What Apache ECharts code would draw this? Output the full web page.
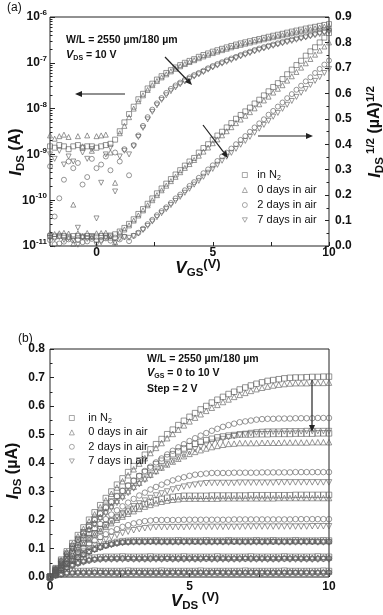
<!DOCTYPE html>
<html><head><meta charset="utf-8">
<script src="https://cdn.jsdelivr.net/npm/echarts@6/dist/echarts.min.js"></script>
<style>html,body{margin:0;padding:0;background:#fff}#c{width:383px;height:615px}</style>
</head><body><div id="c"></div>
<script>
// ---------- legend / series names ----------
const names = ['in N2', '0 days in air', '2 days in air', '7 days in air'];

// ---------- panel (a): transfer curves ----------
const vgs = [-2,-1.8,-1.6,-1.4,-1.2,-1,-0.8,-0.6,-0.4,-0.2,
 0,0.2,0.4,0.6,0.8,1,1.2,1.4,1.6,1.8,
 2,2.2,2.4,2.6,2.8,3,3.2,3.4,3.6,3.8,
 4,4.2,4.4,4.6,4.8,5,5.2,5.4,5.6,5.8,
 6,6.2,6.4,6.6,6.8,7,7.2,7.4,7.6,7.8,
 8,8.2,8.4,8.6,8.8,9,9.2,9.4,9.6,9.8,
 10];
const vgsTickLabels = [0, 5, 10];
const logTickExps = [-11, -10, -9, -8, -7, -6];

// I_DS (A), log axis
const logN2 = [1.5e-9,1.4e-9,1.6e-9,1.5e-9,1.3e-9,1.5e-9,1.6e-9,1.4e-9,1.5e-9,1.5e-9,
 1.4e-9,1.5e-9,1.6e-9,1.7e-9,2.1e-9,3.2e-9,5.0e-9,7.6e-9,1.1e-8,1.6e-8,
 2.1e-8,2.75e-8,3.5e-8,4.3e-8,5.1e-8,6.0e-8,6.9e-8,7.9e-8,8.9e-8,1.0e-7,
 1.1e-7,1.2e-7,1.35e-7,1.48e-7,1.6e-7,1.75e-7,1.88e-7,2.02e-7,2.17e-7,2.33e-7,
 2.5e-7,2.65e-7,2.8e-7,2.96e-7,3.13e-7,3.3e-7,3.5e-7,3.7e-7,3.9e-7,4.1e-7,
 4.3e-7,4.55e-7,4.8e-7,5.05e-7,5.3e-7,5.6e-7,5.85e-7,6.1e-7,6.4e-7,6.7e-7,
 7.0e-7];
const log0d = [2.6e-9,2.2e-9,2.5e-9,2.7e-9,2.4e-9,8e-11,2.5e-9,1.5e-9,2.6e-9,1.2e-9,
 2.5e-9,2.6e-9,2.7e-9,1.1e-9,2.4e-10,2.9e-9,4.2e-9,6.5e-9,1.0e-8,1.45e-8,
 1.95e-8,2.55e-8,3.25e-8,4.0e-8,4.8e-8,5.6e-8,6.5e-8,7.4e-8,8.4e-8,9.4e-8,
 1.04e-7,1.14e-7,1.26e-7,1.38e-7,1.5e-7,1.63e-7,1.76e-7,1.89e-7,2.03e-7,2.18e-7,
 2.33e-7,2.47e-7,2.62e-7,2.77e-7,2.93e-7,3.1e-7,3.27e-7,3.45e-7,3.63e-7,3.82e-7,
 4.0e-7,4.22e-7,4.45e-7,4.68e-7,4.92e-7,5.15e-7,5.4e-7,5.65e-7,5.9e-7,6.15e-7,
 6.4e-7];
const log2d = [5.5e-10,4.4e-11,1.1e-10,2.8e-10,7e-10,5e-10,6.5e-10,2.2e-10,3.2e-10,8e-10,
 5e-10,6e-10,9e-10,4.5e-10,1.1e-9,7e-10,1.3e-9,3.5e-10,1.6e-9,2.6e-9,
 4.2e-9,6.5e-9,9.5e-9,1.3e-8,1.7e-8,2.2e-8,2.7e-8,3.2e-8,3.7e-8,4.25e-8,
 4.8e-8,5.4e-8,6.0e-8,6.7e-8,7.6e-8,8.5e-8,9.4e-8,1.03e-7,1.13e-7,1.24e-7,
 1.35e-7,1.48e-7,1.61e-7,1.75e-7,1.9e-7,2.05e-7,2.2e-7,2.35e-7,2.5e-7,2.67e-7,
 2.85e-7,3.03e-7,3.22e-7,3.41e-7,3.6e-7,3.8e-7,4.05e-7,4.3e-7,4.6e-7,4.9e-7,
 5.2e-7];
const log7d = [1.0e-9,8e-10,1.2e-9,6e-10,9e-10,7e-10,2.5e-11,1.1e-9,8e-10,1.3e-9,
 4e-11,2.4e-10,1.0e-9,1.4e-9,1.55e-10,9e-10,1.2e-9,1.0e-9,1.5e-9,2.4e-9,
 3.8e-9,5.8e-9,8.5e-9,1.18e-8,1.55e-8,1.95e-8,2.4e-8,2.9e-8,3.4e-8,3.9e-8,
 4.4e-8,5.0e-8,5.6e-8,6.3e-8,7.1e-8,7.9e-8,8.7e-8,9.6e-8,1.05e-7,1.15e-7,
 1.26e-7,1.38e-7,1.5e-7,1.63e-7,1.77e-7,1.91e-7,2.05e-7,2.2e-7,2.35e-7,2.5e-7,
 2.66e-7,2.83e-7,3.0e-7,3.18e-7,3.37e-7,3.56e-7,3.78e-7,4.0e-7,4.25e-7,4.5e-7,
 4.8e-7];

// I_DS^1/2 (uA)^1/2, right axis
const sqN2 = [.039,.037,.040,.039,.036,.039,.040,.037,.039,.039,
 .037,.039,.040,.041,.046,.057,.071,.087,.105,.126,
 .145,.166,.187,.207,.226,.245,.263,.281,.298,.316,
 .332,.346,.367,.385,.400,.418,.434,.449,.466,.483,
 .500,.515,.529,.544,.560,.575,.592,.608,.625,.640,
 .656,.675,.693,.711,.728,.748,.765,.781,.800,.819,
 .837];
const sq0d = [.051,.047,.050,.052,.049,.009,.050,.039,.051,.035,
 .050,.051,.052,.033,.015,.054,.065,.081,.100,.120,
 .140,.160,.180,.200,.219,.237,.255,.272,.290,.307,
 .322,.338,.355,.371,.387,.404,.419,.435,.451,.467,
 .483,.497,.512,.526,.541,.557,.572,.587,.603,.618,
 .632,.650,.667,.684,.701,.718,.735,.752,.768,.784,
 .800];
const sq2d = [.023,.007,.010,.017,.026,.022,.025,.015,.018,.028,
 .022,.024,.030,.021,.033,.026,.036,.019,.040,.052,
 .068,.086,.103,.121,.137,.152,.169,.187,.202,.219,
 .236,.251,.268,.286,.301,.317,.334,.352,.367,.383,
 .400,.417,.432,.449,.466,.482,.498,.516,.531,.548,
 .564,.581,.597,.614,.630,.647,.663,.680,.696,.713,
 .729];
const sq7d = [.032,.028,.035,.024,.030,.026,.005,.033,.028,.036,
 .006,.015,.032,.037,.012,.030,.035,.032,.039,.049,
 .063,.079,.096,.113,.129,.145,.161,.177,.193,.209,
 .225,.241,.256,.272,.288,.303,.319,.335,.351,.366,
 .382,.398,.413,.429,.445,.461,.476,.492,.508,.523,
 .539,.555,.570,.586,.602,.617,.633,.649,.664,.680,
 .696];

// ---------- panel (b): output curves, I_DS (uA) vs V_DS ----------
const vds = [0,0.2,0.4,0.6,0.8,1,1.2,1.4,1.6,1.8,
 2,2.2,2.4,2.6,2.8,3,3.2,3.4,3.6,3.8,
 4,4.2,4.4,4.6,4.8,5,5.2,5.4,5.6,5.8,
 6,6.2,6.4,6.6,6.8,7,7.2,7.4,7.6,7.8,
 8,8.2,8.4,8.6,8.8,9,9.2,9.4,9.6,9.8,
 10];
const vdsTickLabels = [0, 5, 10];

// in N2, VGS = 0,2,4,6,8,10 V
const n2Vg0 = [0,.008,.013,.018,.020,.021,.021,.021,.022,.021,
 .021,.021,.021,.021,.022,.021,.021,.021,.021,.021,
 .022,.021,.021,.021,.021,.021,.021,.022,.021,.021,
 .021,.021,.021,.021,.021,.022,.021,.021,.021,.021,
 .021,.021,.022,.021,.021,.021,.021,.021,.021,.022,
 .021];
const n2Vg2 = [0,.013,.026,.036,.045,.053,.060,.065,.068,.070,
 .071,.071,.071,.072,.071,.071,.071,.071,.072,.071,
 .071,.071,.071,.071,.072,.071,.071,.071,.071,.071,
 .072,.071,.071,.071,.071,.071,.072,.071,.071,.071,
 .071,.071,.072,.071,.071,.071,.071,.071,.072,.071,
 .071];
const n2Vg4 = [0,.016,.032,.046,.059,.071,.082,.092,.100,.108,
 .114,.119,.123,.126,.127,.128,.128,.128,.128,.129,
 .128,.128,.128,.129,.128,.128,.128,.128,.129,.128,
 .128,.128,.129,.128,.128,.128,.128,.129,.128,.128,
 .129,.128,.128,.128,.129,.128,.128,.128,.128,.129,
 .128];
const n2Vg6 = [0,.022,.044,.064,.084,.103,.120,.137,.153,.168,
 .182,.196,.208,.219,.230,.239,.248,.256,.263,.269,
 .274,.278,.281,.283,.285,.285,.285,.285,.285,.286,
 .286,.286,.286,.286,.286,.286,.287,.287,.287,.287,
 .287,.287,.287,.287,.288,.288,.288,.288,.288,.288,
 .288];
const n2Vg8 = [0,.028,.056,.082,.108,.133,.157,.180,.202,.224,
 .245,.265,.284,.302,.320,.337,.353,.368,.382,.396,
 .408,.420,.431,.441,.451,.459,.467,.474,.480,.485,
 .490,.493,.496,.498,.500,.500,.500,.501,.501,.501,
 .502,.502,.502,.502,.503,.503,.503,.503,.504,.504,
 .504];
const n2Vg10 = [0,.031,.061,.090,.119,.147,.174,.201,.227,.252,
 .277,.300,.324,.346,.368,.389,.409,.429,.448,.466,
 .484,.501,.517,.533,.548,.562,.575,.588,.600,.612,
 .622,.632,.642,.650,.658,.665,.672,.678,.683,.688,
 .691,.694,.697,.699,.700,.700,.701,.702,.702,.703,
 .703];
// 0 days in air
const d0Vg0 = [0,.007,.012,.016,.018,.019,.019,.019,.019,.020,
 .019,.019,.019,.019,.019,.020,.019,.019,.019,.019,
 .019,.019,.020,.019,.019,.019,.019,.019,.019,.019,
 .020,.019,.019,.019,.019,.019,.019,.019,.020,.019,
 .019,.019,.019,.019,.019,.019,.020,.019,.019,.019,
 .019];
const d0Vg2 = [0,.013,.024,.035,.044,.051,.057,.062,.065,.067,
 .068,.068,.068,.068,.069,.068,.068,.068,.068,.068,
 .068,.069,.068,.068,.068,.068,.068,.068,.069,.068,
 .068,.068,.068,.068,.068,.069,.068,.068,.068,.068,
 .068,.068,.069,.068,.068,.068,.068,.068,.068,.069,
 .068];
const d0Vg4 = [0,.016,.031,.045,.058,.070,.081,.090,.099,.106,
 .112,.117,.121,.124,.125,.126,.126,.126,.127,.126,
 .126,.126,.126,.126,.127,.126,.126,.126,.126,.126,
 .127,.126,.126,.126,.126,.126,.126,.127,.126,.126,
 .126,.126,.126,.126,.126,.127,.126,.126,.126,.126,
 .126];
const d0Vg6 = [0,.022,.042,.062,.081,.099,.116,.132,.148,.162,
 .176,.189,.201,.212,.222,.231,.239,.247,.253,.259,
 .264,.268,.271,.273,.275,.275,.275,.275,.275,.275,
 .275,.276,.276,.276,.276,.276,.276,.276,.276,.276,
 .276,.277,.277,.277,.277,.277,.277,.277,.277,.277,
 .277];
const d0Vg8 = [0,.026,.052,.077,.101,.125,.147,.169,.190,.211,
 .230,.249,.267,.284,.301,.317,.331,.346,.359,.372,
 .384,.395,.405,.415,.424,.432,.439,.445,.451,.456,
 .460,.464,.467,.468,.470,.470,.470,.470,.471,.471,
 .471,.471,.472,.472,.472,.472,.472,.473,.473,.473,
 .473];
const d0Vg10 = [0,.030,.059,.088,.116,.143,.169,.195,.220,.245,
 .269,.292,.314,.336,.357,.378,.398,.417,.435,.453,
 .470,.487,.502,.517,.532,.546,.559,.571,.583,.594,
 .604,.614,.623,.632,.639,.646,.653,.659,.664,.668,
 .672,.675,.677,.679,.680,.680,.680,.681,.681,.681,
 .682];
// 2 days in air
const d2Vg0 = [0,.005,.009,.012,.013,.014,.014,.014,.015,.014,
 .014,.014,.014,.014,.014,.015,.014,.014,.014,.014,
 .014,.014,.015,.014,.014,.014,.014,.014,.014,.015,
 .014,.014,.014,.014,.014,.014,.015,.014,.014,.014,
 .014,.014,.014,.015,.014,.014,.014,.014,.014,.014,
 .015];
const d2Vg2 = [0,.012,.023,.033,.041,.048,.054,.058,.061,.063,
 .064,.064,.064,.065,.064,.064,.064,.064,.064,.065,
 .064,.064,.064,.064,.064,.065,.064,.064,.064,.064,
 .064,.065,.064,.064,.064,.064,.064,.064,.065,.064,
 .064,.064,.064,.064,.065,.064,.064,.064,.064,.064,
 .065];
const d2Vg4 = [0,.016,.031,.045,.057,.069,.079,.089,.097,.104,
 .110,.115,.119,.122,.123,.124,.124,.124,.124,.125,
 .124,.124,.124,.124,.124,.125,.124,.124,.124,.124,
 .124,.124,.125,.124,.124,.124,.124,.124,.124,.125,
 .124,.124,.124,.124,.124,.124,.125,.124,.124,.124,
 .124];
const d2Vg6 = [0,.020,.038,.056,.072,.088,.102,.116,.128,.140,
 .150,.160,.168,.176,.182,.188,.192,.196,.198,.200,
 .200,.200,.200,.200,.201,.201,.201,.201,.201,.201,
 .201,.201,.201,.202,.202,.202,.202,.202,.202,.202,
 .202,.202,.202,.202,.203,.203,.203,.203,.203,.203,
 .203];
const d2Vg8 = [0,.024,.047,.069,.091,.112,.131,.150,.169,.186,
 .203,.219,.234,.248,.261,.274,.286,.296,.307,.316,
 .324,.332,.339,.345,.350,.355,.359,.361,.363,.365,
 .365,.365,.365,.366,.366,.366,.366,.366,.367,.367,
 .367,.367,.367,.367,.368,.368,.368,.368,.368,.368,
 .368];
const d2Vg10 = [0,.027,.054,.080,.105,.130,.154,.177,.200,.222,
 .243,.263,.283,.302,.321,.338,.355,.372,.387,.402,
 .416,.430,.443,.455,.466,.477,.487,.496,.505,.513,
 .520,.527,.533,.538,.543,.546,.549,.552,.554,.555,
 .555,.556,.556,.556,.557,.557,.557,.557,.558,.558,
 .558];
// 7 days in air
const d7Vg0 = [0,.004,.008,.010,.011,.012,.012,.012,.012,.013,
 .012,.012,.012,.012,.012,.012,.013,.012,.012,.012,
 .012,.012,.012,.013,.012,.012,.012,.012,.012,.012,
 .013,.012,.012,.012,.012,.012,.012,.013,.012,.012,
 .012,.012,.012,.012,.013,.012,.012,.012,.012,.012,
 .012];
const d7Vg2 = [0,.012,.022,.031,.039,.046,.051,.056,.059,.060,
 .061,.061,.061,.061,.062,.061,.061,.061,.061,.061,
 .061,.062,.061,.061,.061,.061,.061,.061,.062,.061,
 .061,.061,.061,.061,.061,.062,.061,.061,.061,.061,
 .061,.061,.062,.061,.061,.061,.061,.061,.061,.062,
 .061];
const d7Vg4 = [0,.016,.030,.044,.056,.067,.077,.087,.095,.102,
 .108,.112,.116,.119,.120,.121,.121,.121,.122,.121,
 .121,.121,.121,.121,.121,.121,.122,.121,.121,.121,
 .121,.121,.121,.122,.121,.121,.121,.121,.121,.121,
 .122,.121,.121,.121,.121,.121,.121,.122,.121,.121,
 .121];
const d7Vg6 = [0,.017,.033,.049,.063,.077,.089,.101,.112,.122,
 .131,.140,.147,.154,.159,.164,.168,.171,.173,.175,
 .175,.175,.175,.175,.175,.176,.176,.176,.176,.176,
 .176,.176,.176,.176,.176,.177,.177,.177,.177,.177,
 .177,.177,.177,.177,.177,.177,.177,.178,.178,.178,
 .178];
const d7Vg8 = [0,.022,.043,.063,.082,.101,.119,.136,.153,.168,
 .183,.198,.211,.224,.236,.248,.258,.268,.277,.286,
 .293,.300,.307,.312,.317,.321,.324,.327,.329,.330,
 .330,.330,.330,.330,.331,.331,.331,.331,.331,.331,
 .331,.332,.332,.332,.332,.332,.332,.332,.332,.332,
 .332];
const d7Vg10 = [0,.025,.050,.074,.097,.120,.142,.163,.184,.204,
 .223,.242,.260,.278,.295,.311,.326,.341,.356,.369,
 .383,.395,.407,.418,.428,.438,.448,.456,.464,.471,
 .478,.484,.490,.494,.499,.502,.505,.507,.509,.510,
 .510,.510,.511,.511,.511,.511,.512,.512,.512,.512,
 .512];

// ---------- chart ----------
const FONT = 'Liberation Sans, Arial, sans-serif';
const INK = '#111';
const symbols = ['rect', 'triangle', 'circle', 'path://M0,0L10,0L5,9Z'];
const markStyle = {color: 'rgba(255,255,255,0)', borderColor: '#5c5c5c', borderWidth: 0.8};

function sc(k, xs, ys, xi, yi, size) {
  return {
    type: 'scatter', name: names[k], xAxisIndex: xi, yAxisIndex: yi,
    data: xs.map((x, i) => [x, ys[i]]),
    symbol: symbols[k], symbolSize: size, itemStyle: markStyle,
    silent: true, animation: false, emphasis: {disabled: true}
  };
}

const series = [];
[logN2, log0d, log2d, log7d].forEach((d, k) => series.push(sc(k, vgs, d, 0, 0, 5)));
[sqN2, sq0d, sq2d, sq7d].forEach((d, k) => series.push(sc(k, vgs, d, 0, 1, 5)));
const outGroups = [
  [n2Vg0, n2Vg2, n2Vg4, n2Vg6, n2Vg8, n2Vg10],
  [d0Vg0, d0Vg2, d0Vg4, d0Vg6, d0Vg8, d0Vg10],
  [d2Vg0, d2Vg2, d2Vg4, d2Vg6, d2Vg8, d2Vg10],
  [d7Vg0, d7Vg2, d7Vg4, d7Vg6, d7Vg8, d7Vg10]
];
outGroups.forEach((grp, k) => grp.forEach(d => series.push(sc(k, vds, d, 1, 3, 5.5))));

const tickLine = {color: '#222', width: 1};
const boldLabel = {color: INK, fontFamily: FONT, fontWeight: 'bold', fontSize: 12};
const noLine = {show: false, onZero: false};

const logMinor = [];
for (let e = -11; e < -6; e++) for (let m = 2; m <= 9; m++) logMinor.push(e + Math.log10(m));

const titleRich = {
  i: {fontFamily: FONT, fontSize: 17, fontWeight: 'bold', fontStyle: 'italic', lineHeight: 21, color: INK},
  s: {fontFamily: FONT, fontSize: 11.5, fontWeight: 'bold', lineHeight: 11, verticalAlign: 'bottom', color: INK},
  p: {fontFamily: FONT, fontSize: 11.5, fontWeight: 'bold', lineHeight: 11, verticalAlign: 'top', color: INK},
  n: {fontFamily: FONT, fontSize: 16, fontWeight: 'bold', lineHeight: 21, color: INK},
  r: {fontFamily: FONT, fontSize: 13, fontWeight: 'bold', lineHeight: 14, verticalAlign: 'top', color: INK}
};
const noteRich = {
  v: {fontFamily: FONT, fontSize: 11, fontWeight: 'bold', fontStyle: 'italic', lineHeight: 14, color: INK},
  s: {fontFamily: FONT, fontSize: 7, fontWeight: 'bold', lineHeight: 7, verticalAlign: 'bottom', color: INK},
  b: {fontFamily: FONT, fontSize: 10.5, fontWeight: 'bold', lineHeight: 14, color: INK}
};

function txt(x, y, text, rich, rot, align) {
  return {type: 'text', x: x, y: y, rotation: rot || 0, silent: true, z: 100,
    style: {text: text, rich: rich, align: align || 'center', verticalAlign: 'middle',
      font: 'bold 11px ' + FONT, fill: INK}};
}
function plain(x, y, text, font) {
  return {type: 'text', x: x, y: y, silent: true, z: 100,
    style: {text: text, font: font, fill: INK, align: 'left', verticalAlign: 'middle'}};
}
function arrow(x1, y1, x2, y2) {
  const a = Math.atan2(y2 - y1, x2 - x1), L = 7, W = 3;
  const bx = x2 - L * Math.cos(a), by = y2 - L * Math.sin(a);
  const px = -Math.sin(a) * W, py = Math.cos(a) * W;
  return [
    {type: 'line', silent: true, z: 100, shape: {x1: x1, y1: y1, x2: bx, y2: by}, style: {stroke: '#222', lineWidth: 1.2}},
    {type: 'polygon', silent: true, z: 100, shape: {points: [[x2, y2], [bx + px, by + py], [bx - px, by - py]]}, style: {fill: '#222'}}
  ];
}

const legendRich = {
  t: {fontFamily: FONT, fontSize: 11, color: INK, lineHeight: 14},
  s: {fontFamily: FONT, fontSize: 7, color: INK, lineHeight: 7, verticalAlign: 'bottom'}
};
function legendFmt(n) { return n === 'in N2' ? '{t|in N}{s|2}' : '{t|' + n + '}'; }
function mkLegend(left, top, gap, textPad) {
  return {data: names, orient: 'vertical', left: left, top: top, padding: 0,
    itemWidth: 5, itemHeight: 5, itemGap: gap, selectedMode: false, formatter: legendFmt,
    itemStyle: {borderWidth: 0.7, borderColor: '#666'},
    textStyle: {fontFamily: FONT, fontSize: 11, color: INK, lineHeight: 14, padding: [0, 0, 0, textPad], rich: legendRich}};
}

const option = {
  animation: false,
  backgroundColor: '#fff',
  textStyle: {fontFamily: FONT},
  grid: [
    {left: 50, top: 17, width: 279, height: 229, show: true, borderColor: '#222', borderWidth: 1, backgroundColor: 'transparent', outerBoundsMode: 'none'},
    {left: 50, top: 349, width: 279, height: 228, show: true, borderColor: '#222', borderWidth: 1, backgroundColor: 'transparent', outerBoundsMode: 'none'}
  ],
  legend: [mkLegend(242, 168, 1, 5), mkLegend(69, 411, 0.4, 9)],
  xAxis: [
    {gridIndex: 0, type: 'value', min: -2, max: 10,
      axisLine: noLine, splitLine: {show: false},
      axisTick: {inside: true, length: 4, customValues: [0, 2.5, 5, 7.5, 10], lineStyle: tickLine},
      axisLabel: Object.assign({customValues: vgsTickLabels, margin: 1}, boldLabel)},
    {gridIndex: 1, type: 'value', min: 0, max: 10, interval: 2.5,
      axisLine: noLine, splitLine: {show: false},
      axisTick: {inside: true, length: 4, lineStyle: tickLine},
      axisLabel: Object.assign({margin: 4, formatter: v => vdsTickLabels.indexOf(v) >= 0 ? String(v) : ''}, boldLabel)}
  ],
  yAxis: [
    {gridIndex: 0, type: 'log', logBase: 10, min: 1e-11, max: 1e-6, position: 'left',
      axisLine: noLine, splitLine: {show: false},
      axisTick: {inside: true, length: 5, lineStyle: tickLine},
      axisLabel: {margin: 3,
        formatter: v => { const e = Math.round(Math.log10(v)); return logTickExps.indexOf(e) >= 0 ? '{b|10}{s|' + e + '}' : ''; },
        rich: {b: {fontFamily: FONT, fontSize: 12, fontWeight: 'bold', lineHeight: 16, color: INK},
               s: {fontFamily: FONT, fontSize: 8, fontWeight: 'bold', lineHeight: 9, verticalAlign: 'top', color: INK}}}},
    {gridIndex: 0, type: 'value', position: 'right', min: 0, max: 0.9, interval: 0.1,
      axisLine: noLine, splitLine: {show: false},
      axisTick: {inside: true, length: 4, lineStyle: tickLine},
      minorTick: {show: true, splitNumber: 2, length: 2.5, lineStyle: tickLine},
      axisLabel: Object.assign({margin: 6, formatter: v => v.toFixed(1)}, boldLabel)},
    {gridIndex: 0, type: 'value', position: 'left', min: -11, max: -6,
      axisLine: noLine, splitLine: {show: false}, axisLabel: {show: false},
      axisTick: {inside: true, length: 2.5, customValues: logMinor, lineStyle: tickLine}},
    {gridIndex: 1, type: 'value', position: 'left', min: 0, max: 0.8, interval: 0.1,
      axisLine: noLine, splitLine: {show: false},
      axisTick: {inside: true, length: 4, lineStyle: tickLine},
      minorTick: {show: true, splitNumber: 2, length: 2.5, lineStyle: tickLine},
      axisLabel: Object.assign({margin: 5, formatter: v => v.toFixed(1)}, boldLabel)}
  ],
  series: series,
  graphic: [
    plain(7, 8, '(a)', '12px ' + FONT),
    plain(18, 339, '(b)', '12px ' + FONT),
    txt(16, 152, '{i|I}{s|DS}{n| (A)}', titleRich, Math.PI / 2),
    txt(375, 132, '{i|I}{s|DS}{p| 1/2}{n| (\u00b5A)}{p|1/2}', titleRich, Math.PI / 2),
    txt(198, 268, '{i|V}{s|GS}{r|(V)}', titleRich),
    txt(13, 471, '{i|I}{s|DS}{n| (\u00b5A)}', titleRich, Math.PI / 2),
    txt(195, 601, '{i|V}{s|DS}{r| (V)}', titleRich),
    plain(66, 40, 'W/L = 2550 \u00b5m/180 \u00b5m', 'bold 10.5px ' + FONT),
    txt(66, 55, '{v|V}{s|DS}{b| = 10 V}', noteRich, 0, 'left'),
    plain(147, 359, 'W/L = 2550 \u00b5m/180 \u00b5m', 'bold 10.5px ' + FONT),
    txt(147, 373, '{v|V}{s|GS}{b| = 0 to 10 V}', noteRich, 0, 'left'),
    plain(147, 389, 'Step = 2 V', 'bold 10.5px ' + FONT)
  ].concat(arrow(125, 94, 75, 94), arrow(258, 136, 313, 136), arrow(165, 57, 192, 85),
           arrow(203, 125, 228, 158), arrow(312, 380, 312, 432))
};

const chart = echarts.init(document.getElementById('c'), null, {renderer: 'canvas'});
chart.setOption(option);
</script></body></html>
